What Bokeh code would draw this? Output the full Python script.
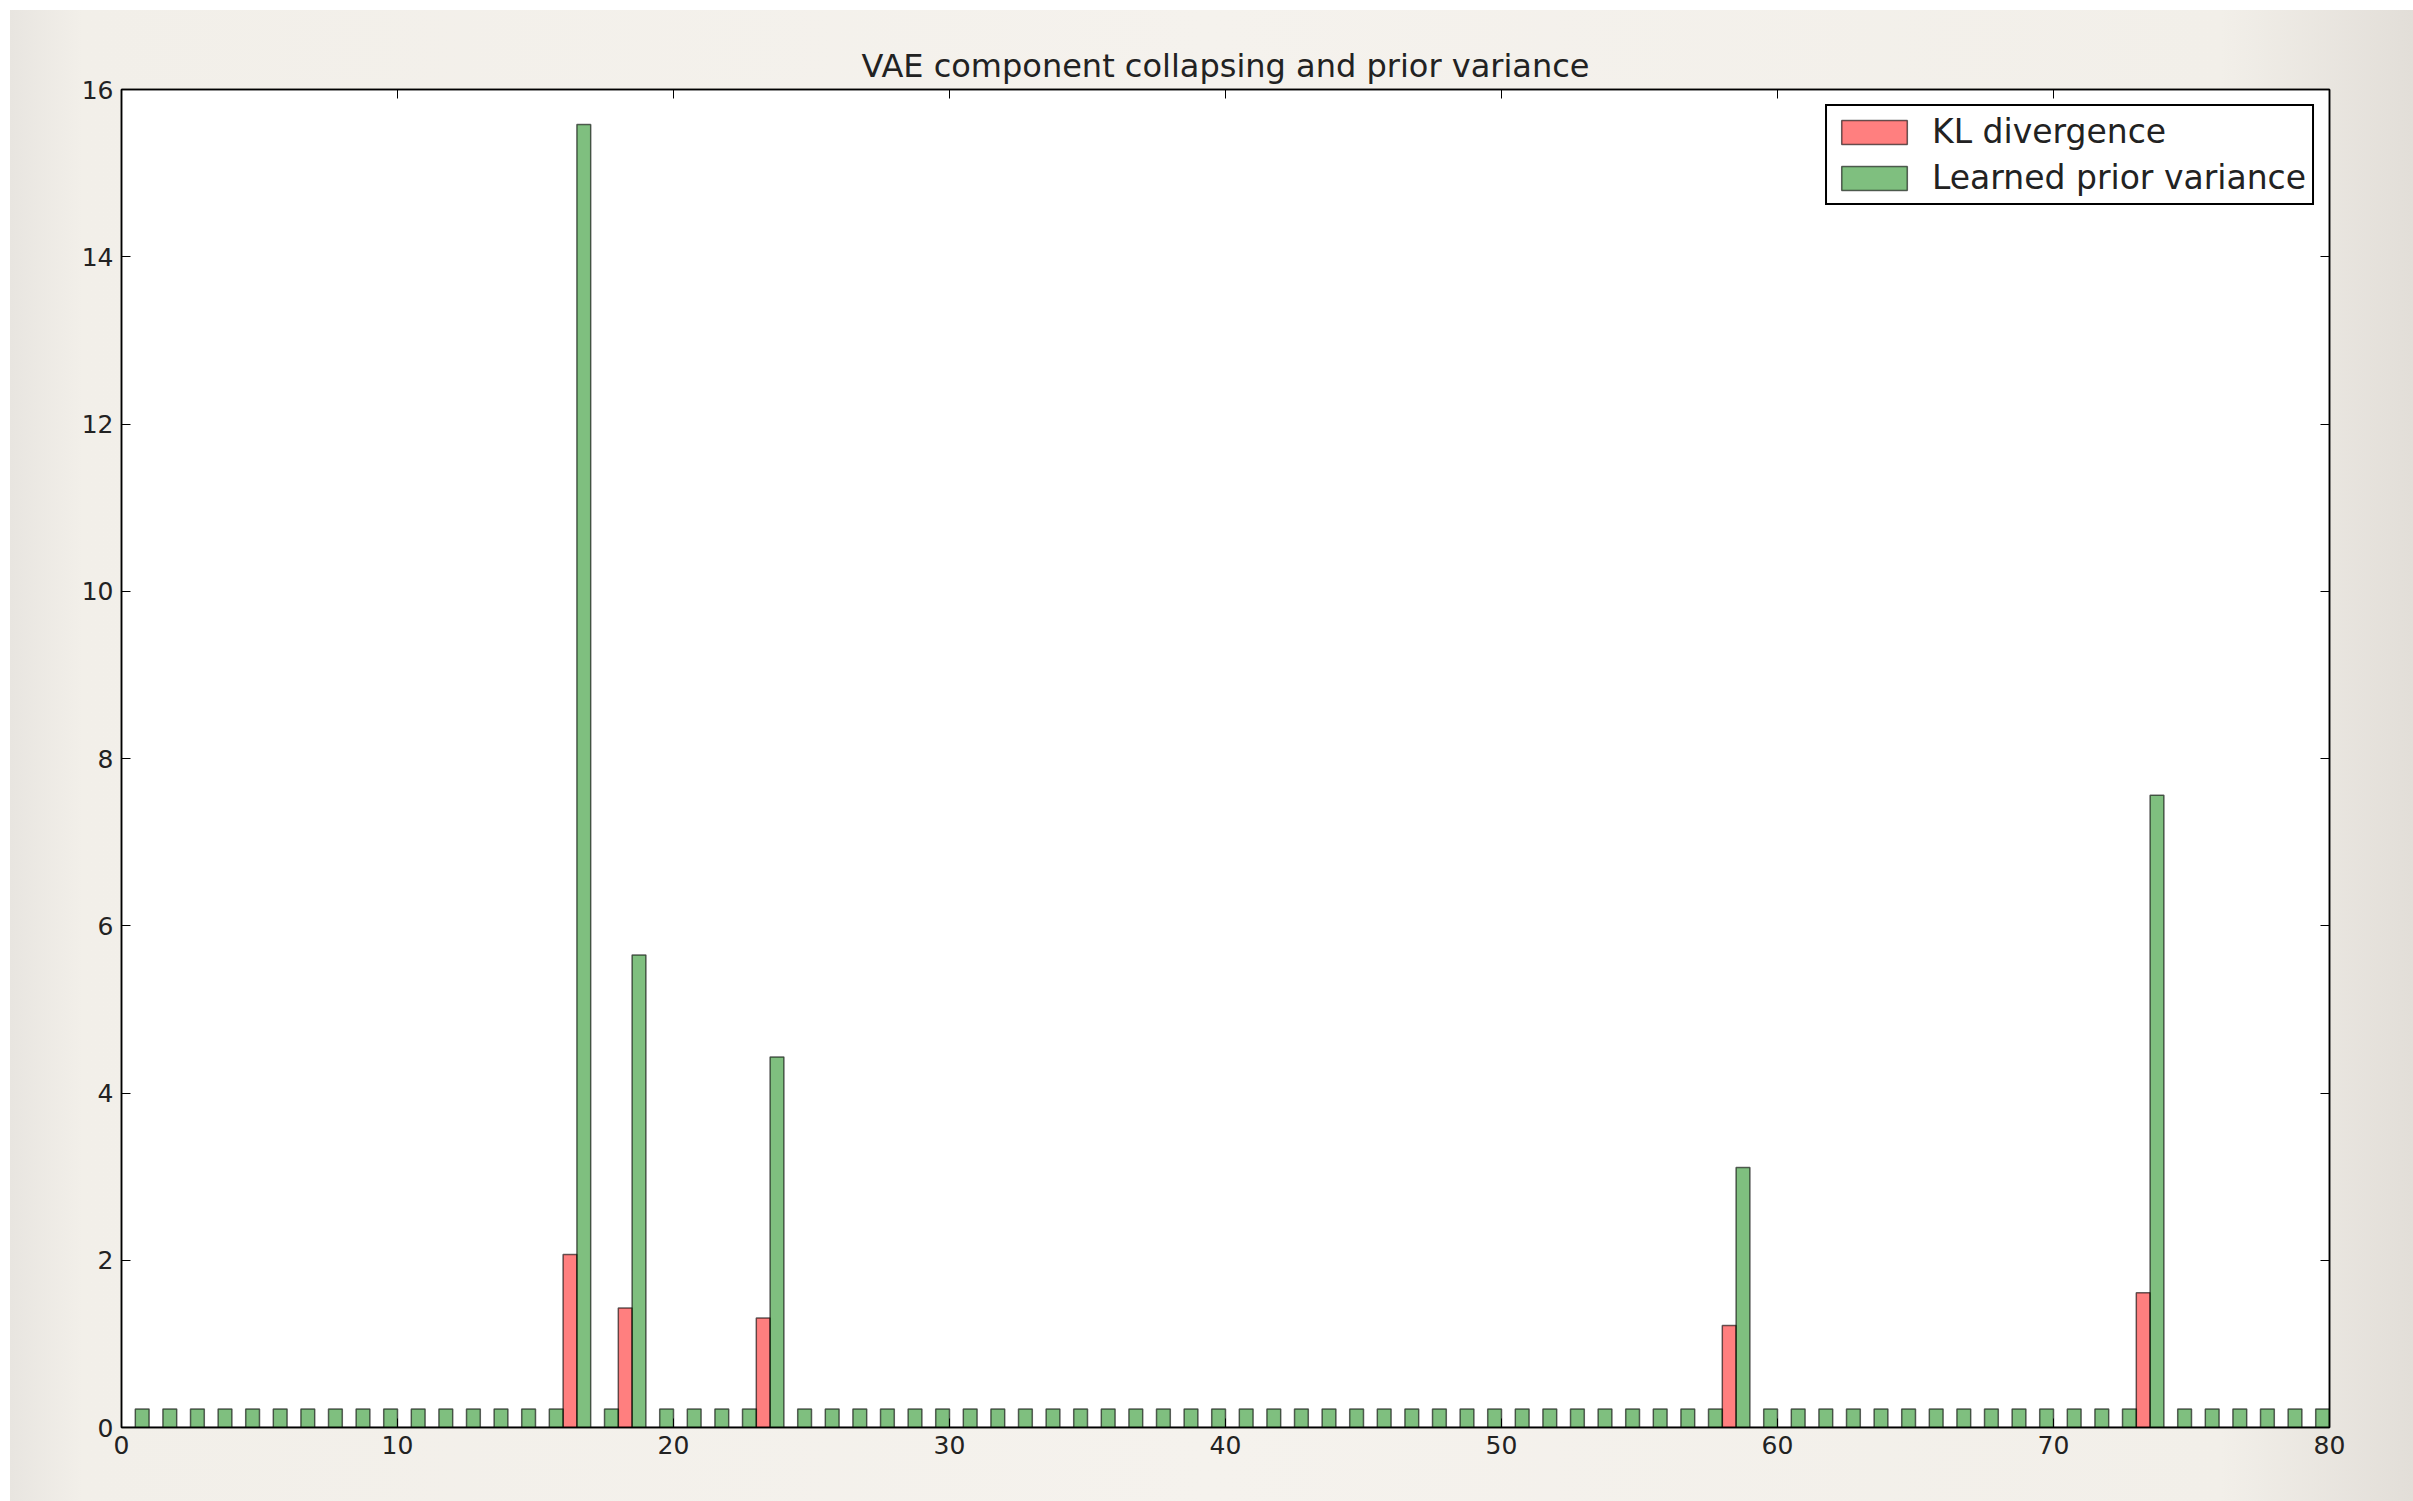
from bokeh.plotting import figure
from bokeh.models import ColumnDataSource, FixedTicker, LinearAxis, Range1d, Legend, LegendItem, Spacer
from bokeh.layouts import row, column
from bokeh.transform import dodge
from bokeh.embed import file_html
from bokeh.resources import INLINE

# Latent components of the VAE (index 0..79)
components = list(range(80))

# KL divergence per latent component
kl_divergence = [
    0, 0, 0, 0, 0, 0, 0, 0, 0, 0,
    0, 0, 0, 0, 0, 0, 2.07, 0, 1.43, 0,
    0, 0, 0, 1.31, 0, 0, 0, 0, 0, 0,
    0, 0, 0, 0, 0, 0, 0, 0, 0, 0,
    0, 0, 0, 0, 0, 0, 0, 0, 0, 0,
    0, 0, 0, 0, 0, 0, 0, 0, 1.22, 0,
    0, 0, 0, 0, 0, 0, 0, 0, 0, 0,
    0, 0, 0, 1.61, 0, 0, 0, 0, 0, 0,
]

# Learned prior variance per latent component
prior_variance = [
    0.22, 0.22, 0.22, 0.22, 0.22, 0.22, 0.22, 0.22, 0.22, 0.22,
    0.22, 0.22, 0.22, 0.22, 0.22, 0.22, 15.58, 0.22, 5.65, 0.22,
    0.22, 0.22, 0.22, 4.43, 0.22, 0.22, 0.22, 0.22, 0.22, 0.22,
    0.22, 0.22, 0.22, 0.22, 0.22, 0.22, 0.22, 0.22, 0.22, 0.22,
    0.22, 0.22, 0.22, 0.22, 0.22, 0.22, 0.22, 0.22, 0.22, 0.22,
    0.22, 0.22, 0.22, 0.22, 0.22, 0.22, 0.22, 0.22, 3.11, 0.22,
    0.22, 0.22, 0.22, 0.22, 0.22, 0.22, 0.22, 0.22, 0.22, 0.22,
    0.22, 0.22, 0.22, 7.56, 0.22, 0.22, 0.22, 0.22, 0.22, 0.22,
]

x_ticks = [0, 10, 20, 30, 40, 50, 60, 70, 80]
y_ticks = [0, 2, 4, 6, 8, 10, 12, 14, 16]

FONT = "DejaVu Sans"
TEXT = "#222222"

src = ColumnDataSource(dict(component=components, kl=kl_divergence, prior=prior_variance))

p = figure(
    width=2403, height=1491,
    x_range=Range1d(0, 80), y_range=Range1d(0, 16),
    title="VAE component collapsing and prior variance",
    output_backend="svg", toolbar_location=None,
    min_border_left=111, min_border_top=79,
    min_border_right=84, min_border_bottom=74,
)

p.background_fill_color = "white"
p.border_fill_alpha = 0
p.styles = {
    "background": "linear-gradient(to right, #e8e5e0 0%, #f2efe9 3%, #f5f2ed 50%, #f2efe9 92%, #e2ded8 100%)"
}
p.outline_line_color = "black"
p.outline_line_width = 1.5
p.xgrid.visible = False
p.ygrid.visible = False

p.title.text_font = FONT
p.title.text_font_size = "32px"
p.title.text_font_style = "normal"
p.title.text_color = TEXT
p.title.align = "center"

# mirror axes on the top and right, ticks only
p.add_layout(LinearAxis(), "above")
p.add_layout(LinearAxis(), "right")

for ax in p.xaxis:
    ax.ticker = FixedTicker(ticks=x_ticks)
for ax in p.yaxis:
    ax.ticker = FixedTicker(ticks=y_ticks)

for ax in p.axis:
    ax.axis_line_color = "black"
    ax.axis_line_width = 1.5
    ax.major_tick_in = 9
    ax.major_tick_out = 0
    ax.major_tick_line_color = "black"
    ax.major_tick_line_width = 1
    ax.minor_tick_in = 0
    ax.minor_tick_out = 0
    ax.major_label_text_font = FONT
    ax.major_label_text_font_size = "25px"
    ax.major_label_text_color = TEXT
    ax.major_label_standoff = 8

for ax in (p.above[0], p.right[0]):
    ax.major_label_text_color = None
    ax.major_label_text_font_size = "1px"
    ax.major_label_standoff = 0

kl_bars = p.vbar(
    x=dodge("component", 0.25, range=p.x_range), top="kl", width=0.5, source=src,
    fill_color="red", fill_alpha=0.5, line_color="black", line_alpha=0.6, line_width=1.5,
)
prior_bars = p.vbar(
    x=dodge("component", 0.75, range=p.x_range), top="prior", width=0.5, source=src,
    fill_color="green", fill_alpha=0.5, line_color="black", line_alpha=0.6, line_width=1.5,
)

legend = Legend(
    items=[
        LegendItem(label="KL divergence", renderers=[kl_bars]),
        LegendItem(label="Learned prior variance", renderers=[prior_bars]),
    ],
    location="top_right",
    margin=15,
    padding=6,
    spacing=7,
    glyph_width=82,
    glyph_height=30,
    label_standoff=17,
    label_text_font=FONT,
    label_text_font_size="33px",
    label_text_color=TEXT,
    border_line_color="black",
    border_line_alpha=1,
    border_line_width=2,
    background_fill_color="white",
    background_fill_alpha=1,
)
p.add_layout(legend)

page = column(Spacer(height=10), row(Spacer(width=10), p))

open("out.html", "w").write(file_html(page, INLINE))
